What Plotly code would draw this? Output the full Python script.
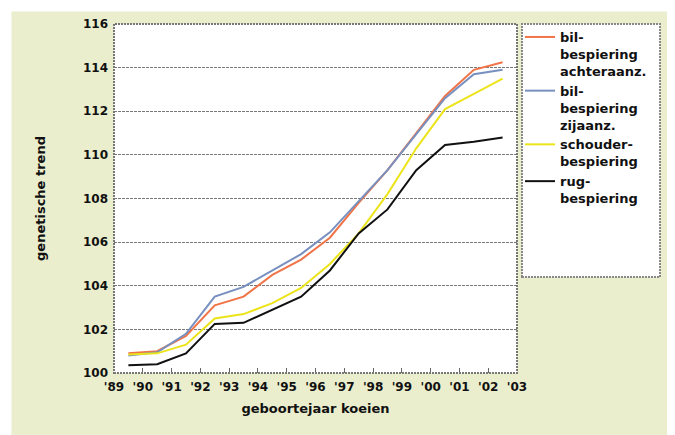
import plotly.graph_objects as go

years = [1989.5, 1990.5, 1991.5, 1992.5, 1993.5, 1994.5, 1995.5, 1996.5,
         1997.5, 1998.5, 1999.5, 2000.5, 2001.5, 2002.5]
bil_achter = [100.9, 101.0, 101.7, 103.1, 103.5, 104.5, 105.2, 106.2,
              107.8, 109.3, 111.0, 112.7, 113.9, 114.25]
bil_zij = [100.8, 100.95, 101.8, 103.5, 103.95, 104.7, 105.45, 106.45,
           107.9, 109.3, 110.95, 112.6, 113.7, 113.9]
schouder = [100.85, 100.9, 101.3, 102.5, 102.7, 103.2, 103.9, 105.0,
            106.4, 108.2, 110.3, 112.1, 112.8, 113.5]
rug = [100.35, 100.4, 100.9, 102.25, 102.3, 102.9, 103.5, 104.7,
       106.4, 107.5, 109.3, 110.45, 110.6, 110.8]

series_names = ["bil-<br>bespiering<br>achteraanz.", "bil-<br>bespiering<br>zijaanz.",
                "schouder-<br>bespiering", "rug-<br>bespiering"]
series_values = [bil_achter, bil_zij, schouder, rug]
series_colors = ["#f07448", "#7890c0", "#ece41a", "#111111"]

tick_years = list(range(1989, 2004))
tick_labels = ["'89", "'90", "'91", "'92", "'93", "'94", "'95", "'96", "'97",
               "'98", "'99", "'00", "'01", "'02", "'03"]
y_ticks = [100, 102, 104, 106, 108, 110, 112, 114, 116]

FONT = "DejaVu Sans"

fig = go.Figure()
for name, vals, col in zip(series_names, series_values, series_colors):
    fig.add_trace(go.Scatter(x=years, y=vals, mode="lines", name=name,
                             line=dict(color=col, width=2)))

# page has an 8px body margin; work in page pixel coordinates
OFF = 8
PW, PH = 675, 435
W, H = PW - OFF, PH - OFF
PL, PR, PT, PB = 114, 517, 24, 373          # plot area in page px
L, T = PL - OFF, PT - OFF
R, B = PW - PR, PH - PB
pw, ph = PR - PL, PB - PT


def px_x(p):
    return (p - PL) / pw


def px_y(p):
    return (PB - p) / ph


shapes = [
    # white strips at top and left
    dict(type="rect", xref="paper", yref="paper", x0=px_x(0), x1=px_x(PW + 10),
         y0=px_y(11.5), y1=px_y(-5), fillcolor="white", line=dict(width=0), layer="below"),
    dict(type="rect", xref="paper", yref="paper", x0=px_x(-5), x1=px_x(11.5),
         y0=px_y(PH + 10), y1=px_y(-5), fillcolor="white", line=dict(width=0), layer="below"),
    # legend box
    dict(type="rect", xref="paper", yref="paper", x0=px_x(522), x1=px_x(660),
         y0=px_y(277), y1=px_y(24), fillcolor="white",
         line=dict(color="#888", width=2, dash="2px,1px"), layer="below"),
    # plot frame
    dict(type="rect", xref="paper", yref="paper", x0=0, x1=1, y0=0, y1=1,
         line=dict(color="#777", width=2, dash="2px,1px"), layer="above"),
]

fig.update_layout(
    width=W, height=H,
    margin=dict(l=L, r=R, t=T, b=B, pad=0, autoexpand=False),
    paper_bgcolor="#ebeecd",
    plot_bgcolor="white",
    font=dict(family=FONT, size=12, color="#111", weight="bold"),
    showlegend=True,
    legend=dict(x=px_x(520), y=px_y(22), xanchor="left", yanchor="top",
                bgcolor="rgba(0,0,0,0)", borderwidth=0, valign="top",
                font=dict(family=FONT, size=13, color="#111", weight="bold"),
                itemwidth=30, tracegroupgap=2),
    shapes=shapes,
    hovermode=False,
)

fig.update_xaxes(range=[1989, 2003], tickvals=tick_years, ticktext=tick_labels,
                 ticks="inside", ticklen=5, tickcolor="#666", tickwidth=1,
                 showgrid=False, zeroline=False, showline=False,
                 tickfont=dict(family=FONT, size=12, weight="bold"),
                 ticklabelstandoff=5,
                 title=dict(text="geboortejaar koeien", standoff=10,
                            font=dict(family=FONT, size=13, weight="bold")))
fig.update_yaxes(range=[100, 116], tickvals=y_ticks, ticks="", showline=False,
                 zeroline=False, showgrid=True, gridcolor="#777", gridwidth=1,
                 griddash="3px,1px",
                 tickfont=dict(family=FONT, size=12, weight="bold"),
                 ticklabelstandoff=5,
                 title=dict(text="genetische trend", standoff=34,
                            font=dict(family=FONT, size=13, weight="bold")))

fig.write_html("out.html")
